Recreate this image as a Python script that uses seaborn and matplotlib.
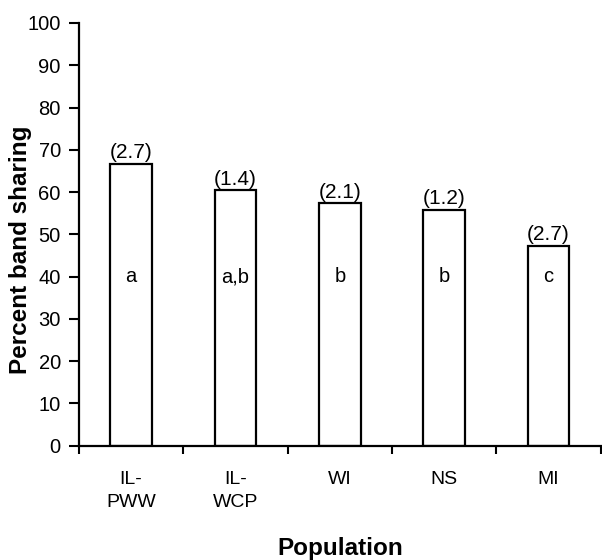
import pandas as pd
import matplotlib.pyplot as plt
import seaborn as sns

# Values
populations = ["IL-\nPWW", "IL-\nWCP", "WI", "NS", "MI"]
band_sharing = [66.7, 60.5, 57.4, 55.8, 47.3]
std_errors = ["(2.7)", "(1.4)", "(2.1)", "(1.2)", "(2.7)"]
groups = ["a", "a,b", "b", "b", "c"]

df = pd.DataFrame({"population": populations, "sharing": band_sharing})

sns.set_style("ticks")
plt.rcParams["font.family"] = ["Liberation Sans", "DejaVu Sans"]
plt.rcParams.update({"text.color": "black", "axes.labelcolor": "black",
                     "xtick.color": "black", "ytick.color": "black",
                     "axes.edgecolor": "black"})

fig = plt.figure(figsize=(6.02, 5.6), dpi=100)
ax = fig.add_axes([0.131, 0.204, 0.867, 0.755])

sns.barplot(data=df, x="population", y="sharing", ax=ax, color="white",
            edgecolor="black", linewidth=1.6, width=0.4, saturation=1)

# SE above each bar, significance group inside
for i, (val, se, grp) in enumerate(zip(band_sharing, std_errors, groups)):
    ax.annotate(se, (i, val), xytext=(0, 1), textcoords="offset points",
                ha="center", va="bottom", fontsize=15)
    ax.text(i, 40, grp, ha="center", va="center", fontsize=14.5)

ax.set_ylim(0, 100)
ax.set_xlim(-0.5, 4.5)
ax.set_yticks(range(0, 101, 10))

# tick marks between categories, labels at the category centres
ax.set_xticks([x - 0.5 for x in range(6)])
ax.set_xticklabels([])
ax.set_xticks(range(5), minor=True)
ax.set_xticklabels(populations, minor=True, fontsize=14, linespacing=1.5)
ax.tick_params(axis="x", which="minor", length=0, pad=18)
ax.tick_params(axis="x", which="major", length=6, width=1.5, direction="out")
ax.tick_params(axis="y", length=7, width=1.5, direction="out", labelsize=14.5, pad=6)

for s in ["top", "right"]:
    ax.spines[s].set_visible(False)
for s in ["left", "bottom"]:
    ax.spines[s].set_linewidth(1.6)

ax.set_xlabel("Population", fontsize=17.5, fontweight="bold")
ax.set_ylabel("Percent band sharing", fontsize=17.5, fontweight="bold")
ax.xaxis.set_label_coords(0.5, -0.215)
ax.yaxis.set_label_coords(-0.09, 0.463)

plt.savefig("out.png", dpi=100)
